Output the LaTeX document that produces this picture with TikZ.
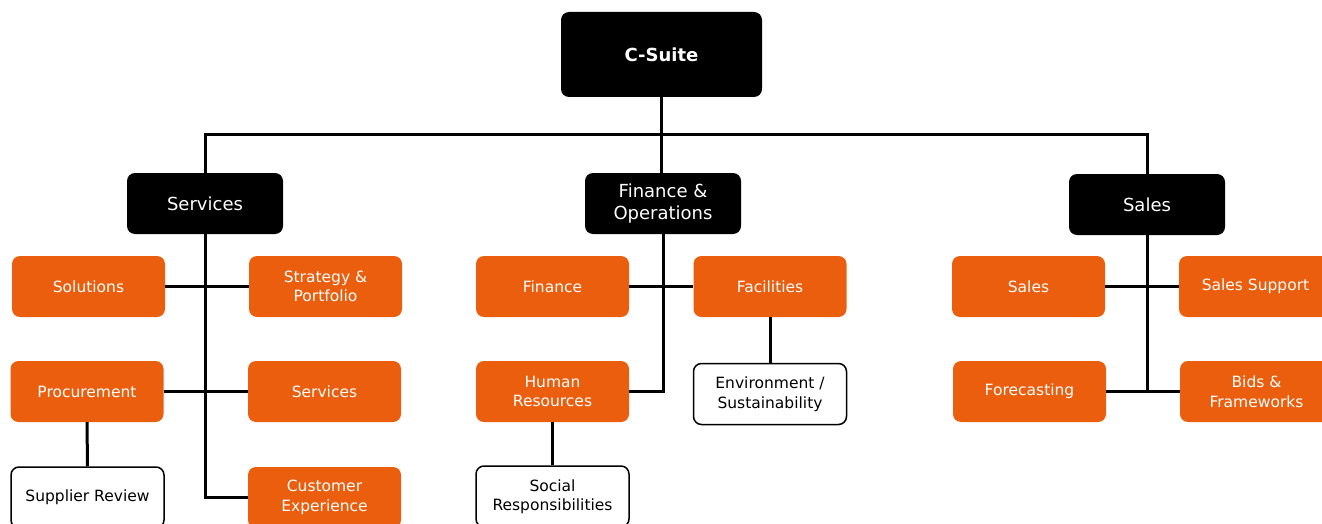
\documentclass[tikz,border=0pt]{standalone}
\usepackage{fontspec}
\setmainfont{DejaVu Sans}
\usetikzlibrary{calc}
\definecolor{org}{RGB}{234,94,14}
\begin{document}
\begin{tikzpicture}[x=1pt,y=1pt,
  base/.style={rounded corners=8pt, inner sep=0pt, align=center, minimum height=61pt, minimum width=153pt},
  head/.style={base, fill=black, text=white, minimum width=156pt, font=\fontsize{18}{22.5}\selectfont},
  top/.style={head, minimum width=201pt, minimum height=85pt, font=\fontsize{18}{22.5}\selectfont\bfseries},
  unit/.style={base, fill=org, text=white, font=\fontsize{15.5}{19.5}\selectfont},
  leaf/.style={base, fill=white, draw=black, line width=1.5pt, text=black, font=\fontsize{15.5}{19.5}\selectfont},
  link/.style={line width=3pt, draw=black}]
\useasboundingbox (0,0) rectangle (1322,-524);
% heads
\node[top]  (cs) at (661.5,-54.5) {C-Suite};
\node[head] (svc) at (205,-203.5) {Services};
\node[head] (fo)  at (663,-203.5) {Finance \&\\Operations};
\node[head] (sh)  at (1147,-204.5) {Sales};
% services branch
\node[unit] (sol)   at (88.5,-286.5) {Solutions};
\node[unit] (strat) at (325.5,-286.5) {Strategy \&\\Portfolio};
\node[unit] (proc)  at (87,-391.5) {Procurement};
\node[unit] (serv)  at (324.5,-391.5) {Services};
\node[leaf] (sup)   at (87.5,-497.5) {Supplier Review};
\node[unit] (cx)    at (324.5,-497.5) {Customer\\Experience};
% finance branch
\node[unit] (fin) at (552.5,-286.5) {Finance};
\node[unit] (fac) at (770,-286.5) {Facilities};
\node[unit] (hr)  at (552.5,-391.5) {Human\\Resources};
\node[leaf] (env) at (770,-394) {Environment /\\Sustainability};
\node[leaf] (soc) at (552.5,-496.5) {Social\\Responsibilities};
% sales branch
\node[unit] (sal) at (1028.5,-286.5) {Sales};
\node[unit] (ss)  at (1255.5,-286.5) {Sales Support};
\node[unit] (fc)  at (1029.5,-391.5) {Forecasting};
\node[unit] (bid) at (1256.5,-391.5) {Bids \&\\Frameworks};
% connectors
\coordinate (bus) at ($(cs.south)!0.5!(fo.north)$);
\draw[link] (cs.south) -- (cs.south |- fo.north);
\draw[link] (svc.north) |- (bus) -| (sh.north);
\draw[link] (svc.south) |- (cx.west);
\draw[link] (sol.east) -- (strat.west);
\draw[link] (proc.east) -- (serv.west);
\draw[link] (proc.south) -- (sup.north);
\draw[link] (fo.south) |- (hr.east);
\draw[link] (fin.east) -- (fac.west);
\draw[link] (fac.south) -- (env.north);
\draw[link] (hr.south) -- (soc.north);
\draw[link] (sh.south) -- (sh.south |- fc.east);
\draw[link] (sal.east) -- (ss.west);
\draw[link] (fc.east) -- (bid.west);
\end{tikzpicture}
\end{document}
